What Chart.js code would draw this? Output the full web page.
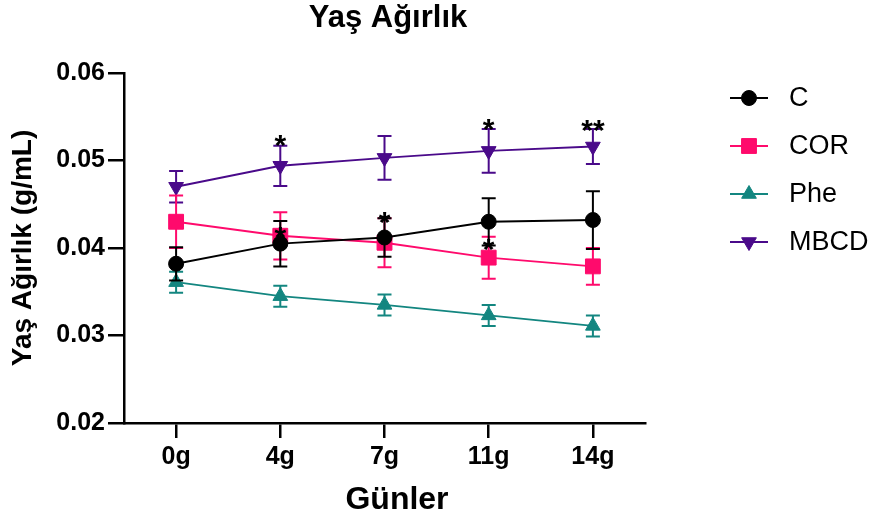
<!DOCTYPE html>
<html>
<head>
<meta charset="utf-8">
<script src="https://cdn.jsdelivr.net/npm/chart.js@4"></script>
<style>
  body { margin: 0; background: #fff; }
  canvas { display: block; }
</style>
</head>
<body>
<canvas id="chart" width="877" height="523"></canvas>
<script>
// veriler (ortalama ve hata)
const days = ['0g', '4g', '7g', '11g', '14g'];
const cMean = [0.0382, 0.0405, 0.0412, 0.0430, 0.0432];
const cErr = [0.0019, 0.0026, 0.0022, 0.0027, 0.0033];
const corMean = [0.0430, 0.0414, 0.0406, 0.0389, 0.0379];
const corErr = [0.0030, 0.0027, 0.0028, 0.0024, 0.0021];
const pheMean = [0.0361, 0.0345, 0.0335, 0.0323, 0.0311];
const pheErr = [0.0012, 0.0012, 0.0012, 0.0012, 0.0012];
const mbcdMean = [0.0470, 0.0494, 0.0503, 0.0511, 0.0516];
const mbcdErr = [0.0018, 0.0023, 0.0025, 0.0025, 0.0020];
const yTicks = [0.02, 0.03, 0.04, 0.05, 0.06];

// yıldız işaretleri
const starDays = ['4g', '11g', '14g', '4g', '7g', '11g'];
const starLevels = [0.0526, 0.0544, 0.0543, 0.0421, 0.0438, 0.0407];
const starTexts = ['*', '*', '**', '*', '*', '*'];

const FONT = "'Liberation Sans', Arial, sans-serif";

function series(label, data, errors, color, style, radius, rotation) {
    return {
        label: label,
        data: data,
        errors: errors,
        borderColor: color,
        backgroundColor: color,
        borderWidth: 2,
        pointStyle: style,
        pointRadius: radius,
        pointHoverRadius: radius,
        pointRotation: rotation || 0,
        pointBorderWidth: 1,
        tension: 0,
    };
}

// hata çubukları
const errorBars = {
    id: 'errorBars',
    beforeDatasetDraw(chart, args) {
        const ds = chart.data.datasets[args.index];
        if (!ds.errors) return;
        const ctx = chart.ctx;
        const y = chart.scales.y;
        ctx.save();
        ctx.strokeStyle = ds.borderColor;
        ctx.lineWidth = 2;
        args.meta.data.forEach((pt, i) => {
            const top = y.getPixelForValue(ds.data[i] + ds.errors[i]);
            const bot = y.getPixelForValue(ds.data[i] - ds.errors[i]);
            ctx.beginPath();
            ctx.moveTo(pt.x, top); ctx.lineTo(pt.x, bot);
            ctx.moveTo(pt.x - 7, top); ctx.lineTo(pt.x + 7, top);
            ctx.moveTo(pt.x - 7, bot); ctx.lineTo(pt.x + 7, bot);
            ctx.stroke();
        });
        ctx.restore();
    }
};

// başlıklar, yıldızlar ve lejant
const extras = {
    id: 'extras',
    afterDatasetsDraw(chart) {
        const ctx = chart.ctx;
        const xs = chart.scales.x, ys = chart.scales.y;
        ctx.save();
        ctx.fillStyle = '#000';
        ctx.font = 'bold 30px ' + FONT;
        ctx.textAlign = 'center';
        ctx.textBaseline = 'alphabetic';
        starDays.forEach((d, i) => {
            const x = xs.getPixelForValue(days.indexOf(d));
            const y = ys.getPixelForValue(starLevels[i]);
            ctx.fillText(starTexts[i], x, y + 17);
        });
        ctx.restore();
    },
    afterDraw(chart) {
        const ctx = chart.ctx;
        ctx.save();
        ctx.fillStyle = '#000';
        ctx.textAlign = 'center';
        ctx.textBaseline = 'alphabetic';
        ctx.font = 'bold 31px ' + FONT;
        ctx.fillText('Yaş Ağırlık', 388, 27);
        ctx.textBaseline = 'middle';
        ctx.font = 'bold 32px ' + FONT;
        ctx.fillText('Günler', 397, 500);
        ctx.save();
        ctx.translate(23, 248);
        ctx.rotate(-Math.PI / 2);
        ctx.font = 'bold 28px ' + FONT;
        ctx.fillText('Yaş Ağırlık (g/mL)', 0, 0);
        ctx.restore();

        ctx.textAlign = 'left';
        ctx.font = '27px ' + FONT;
        chart.data.datasets.forEach((ds, i) => {
            const y = 98 + i * 48;
            ctx.strokeStyle = ds.borderColor;
            ctx.fillStyle = ds.backgroundColor;
            ctx.lineWidth = 2;
            ctx.beginPath();
            ctx.moveTo(730, y); ctx.lineTo(768, y);
            ctx.stroke();
            ctx.lineWidth = 1;
            Chart.helpers.drawPoint(ctx, {
                pointStyle: ds.pointStyle,
                radius: ds.pointRadius,
                rotation: ds.pointRotation,
                borderWidth: 1,
            }, 749, y);
            ctx.fillStyle = '#000';
            ctx.fillText(ds.label, 789, y + 1);
        });
        ctx.restore();
    }
};

const axisGrid = { drawOnChartArea: false, color: '#000', lineWidth: 2.5 };

new Chart(document.getElementById('chart'), {
    type: 'line',
    data: {
        labels: days,
        datasets: [
            series('C', cMean, cErr, '#000000', 'circle', 7.5),
            series('COR', corMean, corErr, '#FF0A6C', 'rect', 10.5),
            series('Phe', pheMean, pheErr, '#138680', 'triangle', 8.5),
            series('MBCD', mbcdMean, mbcdErr, '#4A0A8A', 'triangle', 8.5, 180),
        ],
    },
    options: {
        responsive: false,
        animation: false,
        layout: { padding: { top: 73, right: 232, left: 0, bottom: 0 } },
        plugins: {
            legend: { display: false },
            title: { display: false },
            tooltip: { enabled: false },
        },
        scales: {
            x: {
                offset: true,
                grid: { ...axisGrid, tickLength: 15 },
                border: { color: '#000', width: 2.5 },
                ticks: { color: '#000', padding: 4, maxRotation: 0, font: { family: FONT, size: 25, weight: 'bold' } },
                afterFit: s => { s.height = 100; },
            },
            y: {
                min: 0.02,
                max: 0.06,
                grid: { ...axisGrid, tickLength: 16 },
                border: { color: '#000', width: 2.5 },
                ticks: { color: '#000', padding: 3, font: { family: FONT, size: 25, weight: 'bold' }, callback: v => Number(v).toFixed(2) },
                afterBuildTicks: s => { s.ticks = yTicks.map(v => ({ value: v })); },
                afterFit: s => { s.width = 124; },
            },
        },
    },
    plugins: [errorBars, extras],
});
</script>
</body>
</html>
